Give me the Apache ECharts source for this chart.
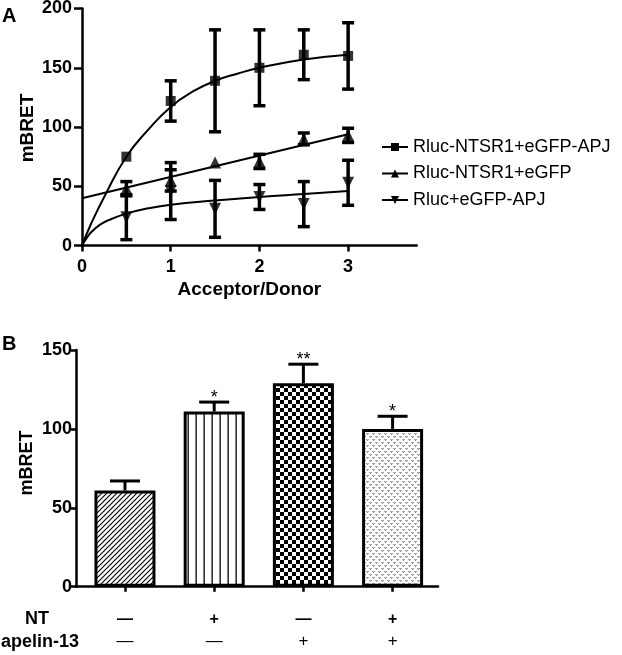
<!DOCTYPE html>
<html>
<head>
<meta charset="utf-8">
<script src="https://cdn.jsdelivr.net/npm/echarts@6/dist/echarts.min.js"></script>
<style>
html,body{margin:0;padding:0;background:#fff;}
#c{width:622px;height:655px;}
</style>
</head>
<body>
<div id="c"></div>
<script>
// ---------- Panel A data ----------
const xA = [0.5, 1, 1.5, 2, 2.5, 3];
const s1Mean = [75, 122, 139, 150, 161, 160];
const s1Err  = [0, 17, 43, 32, 21, 28];
const s2Mean = [48, 55, 70, 71, 90, 93];
const s2Err  = [6, 9, 0, 6, 5, 6];
const s3Mean = [24, 46, 31, 41, 35, 53];
const s3Err  = [19, 24, 24, 10.5, 19, 19];
// fitted curves
const c1x = [0, 0.1, 0.25, 0.5, 0.75, 1, 1.25, 1.5, 1.75, 2, 2.5, 3];
const c1y = [0, 18, 41, 75, 98, 117, 130, 139, 145, 150, 157, 161];
const c2x = [0, 3];
const c2y = [40, 94];
const c3x = [0, 0.05, 0.1, 0.2, 0.3, 0.5, 0.75, 1, 1.5, 2, 2.5, 3];
const c3y = [0, 6, 11, 17.5, 21.5, 27, 31.5, 34.5, 38, 41, 43.5, 46];
const seriesNames = ['Rluc-NTSR1+eGFP-APJ', 'Rluc-NTSR1+eGFP', 'Rluc+eGFP-APJ'];
const xTicksA = [0, 1, 2, 3];

// ---------- Panel B data ----------
const groupPos = [0, 1, 2, 3];
const ntRow = ['—', '+', '—', '+'];
const apelinRow = ['—', '—', '+', '+'];
const barValues = [61, 111, 129, 100];
const barErr = [6, 6, 12, 8];
const sigLabels = ['', '*', '**', '*'];

const FONT = '"Liberation Sans", Arial, sans-serif';

// ---------- patterns ----------
function mk(w, h, draw) {
  const c = document.createElement('canvas');
  c.width = w; c.height = h;
  const g = c.getContext('2d');
  g.fillStyle = '#fff'; g.fillRect(0, 0, w, h);
  draw(g);
  return c;
}
const patDiag = mk(5, 5, g => {
  g.strokeStyle = '#000'; g.lineWidth = 1.1;
  g.beginPath();
  g.moveTo(-1, 6); g.lineTo(6, -1);
  g.moveTo(-1, 1); g.lineTo(1, -1);
  g.moveTo(4, 6); g.lineTo(6, 4);
  g.stroke();
});
const patVert = mk(8, 8, g => {
  g.fillStyle = '#000'; g.fillRect(3.5, 0, 1.3, 8);
});
const patCheck = mk(8, 8, g => {
  g.fillStyle = '#000'; g.fillRect(0, 0, 4, 4); g.fillRect(4, 4, 4, 4);
});
const patDots = mk(6, 6, g => {
  g.strokeStyle = '#6f6f6f'; g.lineWidth = 1;
  g.beginPath();
  g.moveTo(0.5, 1); g.lineTo(1.5, 2.6); g.lineTo(2.5, 1);
  g.moveTo(3.5, 4); g.lineTo(4.5, 5.6); g.lineTo(5.5, 4);
  g.stroke();
});
const patterns = [patDiag, patVert, patCheck, patDots];

function errBarA(params, api) {
  const x = api.value(0), m = api.value(1), e = api.value(2);
  if (!e) return null;
  const t = api.coord([x, m + e]), b = api.coord([x, m - e]);
  const hw = 6, st = { stroke: '#000', lineWidth: 3.5 };
  return { type: 'group', children: [
    { type: 'line', shape: { x1: t[0], y1: t[1], x2: b[0], y2: b[1] }, style: st },
    { type: 'line', shape: { x1: t[0] - hw, y1: t[1], x2: t[0] + hw, y2: t[1] }, style: st },
    { type: 'line', shape: { x1: b[0] - hw, y1: b[1], x2: b[0] + hw, y2: b[1] }, style: st }
  ]};
}

const zip = (a, b) => a.map((v, i) => [v, b[i]]);
const zip3 = (a, b, c) => a.map((v, i) => [v, b[i], c[i]]);

const axisTxt = { color: '#000', fontFamily: FONT, fontWeight: 'bold', fontSize: 18 };
const markers = [
  { symbol: 'rect', size: 10, rot: 0 },
  { symbol: 'triangle', size: 12, rot: 0 },
  { symbol: 'triangle', size: 12, rot: 180 }
];
const means = [s1Mean, s2Mean, s3Mean];
const errs = [s1Err, s2Err, s3Err];
const curves = [[c1x, c1y], [c2x, c2y], [c3x, c3y]];

const series = [];
curves.forEach((c, k) => {
  series.push({
    name: seriesNames[k], type: 'line', xAxisIndex: 0, yAxisIndex: 0,
    data: zip(c[0], c[1]), smooth: k === 1 ? false : 0.5,
    showSymbol: false, symbol: markers[k].symbol, symbolSize: markers[k].size,
    symbolRotate: markers[k].rot,
    lineStyle: { color: '#000', width: 2 }, itemStyle: { color: '#000' },
    silent: true, z: 2
  });
});
errs.forEach((e, k) => {
  series.push({
    name: 'err' + k, type: 'custom', xAxisIndex: 0, yAxisIndex: 0,
    data: zip3(xA, means[k], e), renderItem: errBarA, z: 3, silent: true
  });
});
means.forEach((m, k) => {
  series.push({
    name: 'pt' + k, type: 'scatter', xAxisIndex: 0, yAxisIndex: 0,
    data: zip(xA, m), symbol: markers[k].symbol, symbolSize: markers[k].size,
    symbolRotate: markers[k].rot, itemStyle: { color: '#000' }, z: 4, silent: true
  });
});

// Panel B
series.push({
  type: 'bar', xAxisIndex: 1, yAxisIndex: 1, barWidth: 61,
  data: barValues.map((v, i) => ({ value: [groupPos[i], v], itemStyle: { color: { image: patterns[i], repeat: 'repeat' } } })),
  itemStyle: { borderColor: '#000', borderWidth: 3 }, silent: true, z: 2
});
series.push({
  type: 'custom', xAxisIndex: 1, yAxisIndex: 1, z: 3, silent: true,
  data: barValues.map((v, i) => [groupPos[i], v, barErr[i]]),
  renderItem(params, api) {
    const i = api.value(0), v = api.value(1), e = api.value(2);
    const b = api.coord([i, v]), t = api.coord([i, v + e]);
    const st = { stroke: '#000', lineWidth: 3 };
    return { type: 'group', children: [
      { type: 'line', shape: { x1: b[0], y1: b[1], x2: t[0], y2: t[1] }, style: st },
      { type: 'line', shape: { x1: t[0] - 15, y1: t[1], x2: t[0] + 15, y2: t[1] }, style: st },
      { type: 'text', x: t[0], y: t[1] - 4, style: { text: sigLabels[params.dataIndex], fill: '#000',
        font: '18px ' + FONT, align: 'center', verticalAlign: 'middle' } }
    ]};
  }
});

const option = {
  animation: false,
  backgroundColor: '#fff',
  grid: [
    { left: 82, top: 8.5, width: 334.7, height: 237.1, outerBoundsMode: 'none' },
    { left: 76, top: 350, width: 362, height: 236.7, outerBoundsMode: 'none' }
  ],
  xAxis: [
    { gridIndex: 0, type: 'value', min: 0, max: 3.773, interval: 1,
      axisLine: { show: true, lineStyle: { color: '#000', width: 2.5 } },
      axisTick: { show: true, length: 6, customValues: xTicksA, lineStyle: { color: '#000', width: 2.5 } },
      axisLabel: Object.assign({ margin: 12, customValues: xTicksA }, axisTxt),
      splitLine: { show: false },
      name: 'Acceptor/Donor', nameLocation: 'middle', nameGap: 35,
      nameTextStyle: { color: '#000', fontFamily: FONT, fontWeight: 'bold', fontSize: 19 } },
    { gridIndex: 1, type: 'value', min: -0.549, max: 3.509,
      axisLine: { show: true, onZero: false, lineStyle: { color: '#000', width: 2.5 } },
      axisTick: { show: true, length: 5, customValues: groupPos, lineStyle: { color: '#000', width: 2.5 } },
      splitLine: { show: false },
      axisLabel: { margin: 22, customValues: groupPos,
        formatter: (v) => '{a|' + ntRow[Math.round(v)] + '}\n{b|' + apelinRow[Math.round(v)] + '}',
        rich: {
          a: { fontFamily: FONT, fontWeight: 'bold', fontSize: 16, color: '#000', lineHeight: 22 },
          b: { fontFamily: FONT, fontWeight: 'normal', fontSize: 17, color: '#000', lineHeight: 22 }
        } } }
  ],
  yAxis: [
    { gridIndex: 0, type: 'value', min: 0, max: 200, interval: 50,
      axisLine: { show: true, onZero: false, lineStyle: { color: '#000', width: 2.5 } },
      axisTick: { show: true, length: 8, lineStyle: { color: '#000', width: 2.5 } },
      axisLabel: Object.assign({ margin: 10 }, axisTxt),
      splitLine: { show: false } },
    { gridIndex: 1, type: 'value', min: 0, max: 150, interval: 50,
      axisLine: { show: true, onZero: false, lineStyle: { color: '#000', width: 2.5 } },
      axisTick: { show: true, length: 5, lineStyle: { color: '#000', width: 2.5 } },
      axisLabel: Object.assign({ margin: 4 }, axisTxt),
      splitLine: { show: false } }
  ],
  legend: {
    data: seriesNames, orient: 'vertical', left: 376, top: 133,
    itemWidth: 26, itemHeight: 10, itemGap: 8.5,
    textStyle: { color: '#000', fontFamily: FONT, fontSize: 18, lineHeight: 18 },
    selectedMode: false
  },
  graphic: [
    { type: 'text', left: 2, top: 6, style: { text: 'A', font: 'bold 20px ' + FONT, fill: '#000' } },
    { type: 'text', left: 2, top: 334, style: { text: 'B', font: 'bold 20px ' + FONT, fill: '#000' } },
    { type: 'text', x: 28, y: 128, rotation: Math.PI / 2,
      style: { text: 'mBRET', font: 'bold 19px ' + FONT, fill: '#000', align: 'center', verticalAlign: 'middle' } },
    { type: 'text', x: 27, y: 463, rotation: Math.PI / 2,
      style: { text: 'mBRET', font: 'bold 18px ' + FONT, fill: '#000', align: 'center', verticalAlign: 'middle' } },
    { type: 'text', x: 37, y: 619.5, style: { text: 'NT', font: 'bold 18px ' + FONT, fill: '#000', align: 'center', verticalAlign: 'middle' } },
    { type: 'text', x: 1, y: 641.7, style: { text: 'apelin-13', font: 'bold 18px ' + FONT, fill: '#000', align: 'left', verticalAlign: 'middle' } }
  ],
  series: series
};

const chart = echarts.init(document.getElementById('c'), null, { renderer: 'canvas' });
chart.setOption(option);
</script>
</body>
</html>
